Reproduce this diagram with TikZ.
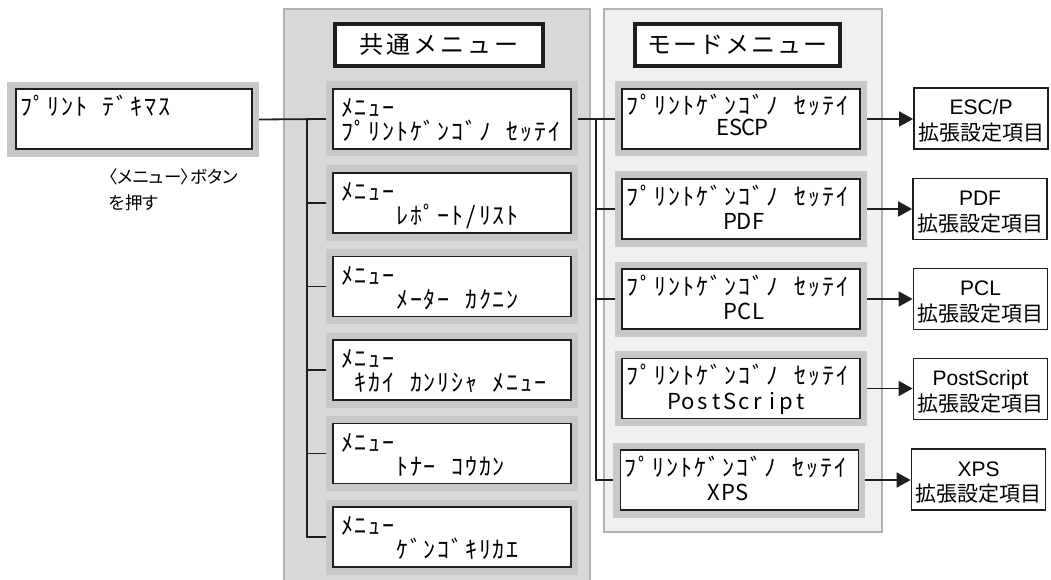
\documentclass[tikz,border=0pt]{standalone}
\usepackage{fontspec}
\usetikzlibrary{arrows.meta}
\setmainfont{Liberation Sans}
\newfontfamily\jp{Noto Sans CJK JP}
\newfontfamily\jpp[RawFeature=+palt]{Noto Sans CJK JP}
\definecolor{panelA}{RGB}{217,217,217}
\definecolor{panelB}{RGB}{240,240,240}
\definecolor{panelEdge}{RGB}{178,178,178}
\definecolor{frameGray}{RGB}{200,200,200}
\definecolor{ink}{RGB}{30,30,30}
\ExplSyntaxOn
\NewDocumentCommand\lcd{O{13.8pt}m}{
  \str_map_inline:nn {#2}{
    \str_if_eq:nnTF {##1}{_}
      {\hbox_to_wd:nn {#1}{}}
      {\hbox_to_wd:nn {#1}{\hss ##1\hss}}
  }
}
\ExplSyntaxOff
\tikzset{
  panelbox/.style={draw=panelEdge,line width=1.5pt,inner sep=0pt,outer sep=0pt},
  framebox/.style={fill=frameGray,draw=none,minimum width=252pt,minimum height=75pt,inner sep=0pt},
  lcdbox/.style={draw=ink,fill=white,line width=1.8pt,minimum width=238pt,minimum height=60pt,inner sep=0pt},
  titlebox/.style={draw=ink,fill=white,line width=3.5pt,minimum height=42pt,inner sep=0pt,font=\jp\fontsize{24}{24}\selectfont},
  resbox/.style={draw=ink,fill=white,line width=1.8pt,minimum width=134pt,minimum height=61pt,inner sep=0pt},
  lcdtxt/.style={anchor=base west,inner sep=0pt,font=\jp\fontsize{24}{24}\selectfont},
  lcdlat/.style={anchor=base west,inner sep=0pt,font=\jp\fontsize{22}{22}\selectfont},
  reslat/.style={anchor=base,inner sep=0pt,font=\fontsize{21}{21}\selectfont},
  resjp/.style={anchor=base,inner sep=0pt,font=\jp\fontsize{21}{21}\selectfont},
  lbl/.style={anchor=base west,inner sep=0pt,font=\jpp\fontsize{17.5}{17.5}\selectfont},
  conn/.style={draw=ink,line width=1.8pt},
  arr/.style={draw=ink,line width=1.8pt,-{Triangle[length=14pt,width=15pt]}}
}
\begin{document}
\begin{tikzpicture}[x=1pt,y=-1pt]
\useasboundingbox (0,0) rectangle (1051,580);
\clip (0,0) rectangle (1051,580);
% panels
\node[panelbox,fill=panelA,minimum width=306pt,minimum height=591pt] (cp) at (437,304.5) {};
\node[panelbox,fill=panelB,minimum width=278pt,minimum height=523pt] (mp) at (743,270.5) {};
% titles
\node[titlebox,minimum width=208pt] (t1) at (439,45) {\lcd[27pt]{共通メニュー}};
\node[titlebox,minimum width=205pt] (t2) at (737.5,45) {\lcd[26pt]{モードメニュー}};
% print box
\node[framebox] (pf) at (133,119.5) {};
\node[lcdbox,minimum width=236pt] (p) at (134,119) {};
\node[lcdtxt] (pt) at (19,116) {\lcd{ﾌﾟﾘﾝﾄ_ﾃﾞｷﾏｽ}};
\node[lbl] (l1) at (109,183.5) {〈メニュー〉ボタン};
\node[lbl] (l2) at (109,209.5) {を押す};
% common items
\node[framebox] (c1f) at (452,119) {};
\node[lcdbox] (c1) at (452,119) {};
\node[lcdtxt] (c1a) at (340,116.5) {\lcd{ﾒﾆｭｰ}};
\node[lcdtxt] (c1b) at (340,140.5) {\lcd{ﾌﾟﾘﾝﾄｹﾞﾝｺﾞﾉ_ｾｯﾃｲ}};
\node[framebox] (c2f) at (452,203) {};
\node[lcdbox] (c2) at (452,203) {};
\node[lcdtxt] (c2a) at (340,200.5) {\lcd{ﾒﾆｭｰ}};
\node[lcdtxt] (c2b) at (340,224.5) {\lcd{____ﾚﾎﾟｰﾄ/ﾘｽﾄ}};
\node[framebox] (c3f) at (452,286.5) {};
\node[lcdbox] (c3) at (452,286.5) {};
\node[lcdtxt] (c3a) at (340,284) {\lcd{ﾒﾆｭｰ}};
\node[lcdtxt] (c3b) at (340,308) {\lcd{____ﾒｰﾀｰ_ｶｸﾆﾝ}};
\node[framebox] (c4f) at (452,370) {};
\node[lcdbox] (c4) at (452,370) {};
\node[lcdtxt] (c4a) at (340,367.5) {\lcd{ﾒﾆｭｰ}};
\node[lcdtxt] (c4b) at (340,391.5) {\lcd{_ｷｶｲ_ｶﾝﾘｼｬ_ﾒﾆｭｰ}};
\node[framebox] (c5f) at (452,453.5) {};
\node[lcdbox] (c5) at (452,453.5) {};
\node[lcdtxt] (c5a) at (340,451) {\lcd{ﾒﾆｭｰ}};
\node[lcdtxt] (c5b) at (340,475) {\lcd{____ﾄﾅｰ_ｺｳｶﾝ}};
\node[framebox] (c6f) at (452,537) {};
\node[lcdbox] (c6) at (452,537) {};
\node[lcdtxt] (c6a) at (340,534.5) {\lcd{ﾒﾆｭｰ}};
\node[lcdtxt] (c6b) at (340,558.5) {\lcd{____ｹﾞﾝｺﾞｷﾘｶｴ}};
% mode items
\node[framebox] (m1f) at (741,119) {};
\node[lcdbox] (m1) at (741,119) {};
\node[lcdtxt] (m1a) at (625,115) {\lcd[14pt]{ﾌﾟﾘﾝﾄｹﾞﾝｺﾞﾉ_ｾｯﾃｲ}};
\node[lcdlat] (m1b) at (625,136) {\lcd[13pt]{_______ESCP}};
\node[framebox] (m2f) at (741,209) {};
\node[lcdbox] (m2) at (741,209) {};
\node[lcdtxt] (m2a) at (625,205) {\lcd[14pt]{ﾌﾟﾘﾝﾄｹﾞﾝｺﾞﾉ_ｾｯﾃｲ}};
\node[lcdlat] (m2b) at (625,229.5) {\lcd[14pt]{_______PDF}};
\node[framebox] (m3f) at (741,299) {};
\node[lcdbox] (m3) at (741,299) {};
\node[lcdtxt] (m3a) at (625,295) {\lcd[14pt]{ﾌﾟﾘﾝﾄｹﾞﾝｺﾞﾉ_ｾｯﾃｲ}};
\node[lcdlat] (m3b) at (625,319.5) {\lcd[14pt]{_______PCL}};
\node[framebox] (m4f) at (741,388.5) {};
\node[lcdbox] (m4) at (741,388.5) {};
\node[lcdtxt] (m4a) at (625,384.5) {\lcd[14pt]{ﾌﾟﾘﾝﾄｹﾞﾝｺﾞﾉ_ｾｯﾃｲ}};
\node[lcdlat] (m4b) at (625,409) {\lcd[14pt]{___PostScript}};
\node[framebox] (m5f) at (739,480) {};
\node[lcdbox] (m5) at (739.5,480) {};
\node[lcdtxt] (m5a) at (623,476) {\lcd[14pt]{ﾌﾟﾘﾝﾄｹﾞﾝｺﾞﾉ_ｾｯﾃｲ}};
\node[lcdlat] (m5b) at (623,500.5) {\lcd[14pt]{______XPS}};
% result boxes
\node[resbox] (r1) at (981,118.5) {};
\node[reslat] (r1a) at (981,115) {ESC/P};
\node[resjp] (r1b) at (981,140.5) {拡張設定項目};
\node[resbox] (r2) at (980,209) {};
\node[reslat] (r2a) at (980,205.5) {PDF};
\node[resjp] (r2b) at (980,231) {拡張設定項目};
\node[resbox] (r3) at (980.5,299) {};
\node[reslat] (r3a) at (980.5,295.5) {PCL};
\node[resjp] (r3b) at (980.5,321) {拡張設定項目};
\node[resbox] (r4) at (980.5,389) {};
\node[reslat] (r4a) at (980.5,385.5) {PostScript};
\node[resjp] (r4b) at (980.5,411) {拡張設定項目};
\node[resbox] (r5) at (978.5,479.5) {};
\node[reslat] (r5a) at (978.5,476) {XPS};
\node[resjp] (r5b) at (978.5,501.5) {拡張設定項目};
% common bus
\coordinate (cb) at (307,119);
\draw[conn] (pf.east) -- (c1f.west);
\draw[conn] (cb) |- (c6f.west);
\foreach \i in {2,3,4,5} {\draw[conn] (c\i f.west -| cb) -- (c\i f.west);}
% mode bus
\coordinate (mb) at (596,119);
\draw[conn] (c1f.east) -- (m1f.west);
\draw[conn] (mb) |- (m5f.west);
\foreach \i in {2,3} {\draw[conn] (m\i f.west -| mb) -- (m\i f.west);}
% arrows
\foreach \i in {1,2,3,4,5} {\draw[arr] (m\i f.east) -- (m\i f.east -| r\i.west);}
\end{tikzpicture}
\end{document}
